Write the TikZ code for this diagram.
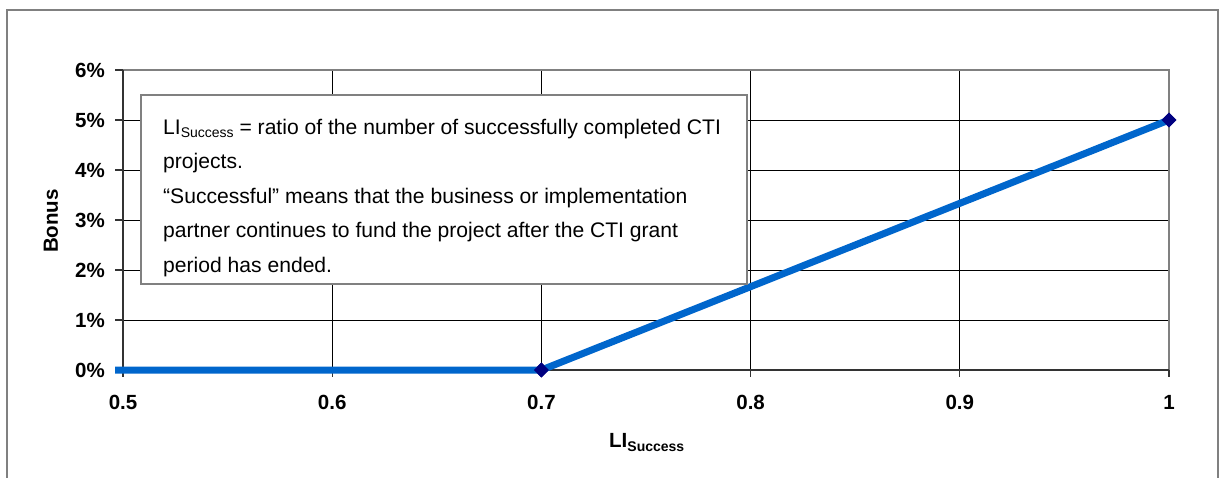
\documentclass[tikz,border=0pt]{standalone}
\usepackage{fontspec}
\setmainfont{Liberation Sans}
\usetikzlibrary{shapes.geometric}
\definecolor{frame}{RGB}{128,128,128}
\definecolor{series}{RGB}{0,102,204}
\definecolor{marker}{RGB}{0,0,128}
\tikzset{
  grid/.style={line width=1pt, black},
  axisline/.style={line width=1.2pt, black!80},
  plotframe/.style={line width=1.5pt, frame},
  ylab/.style={anchor=east, font=\fontsize{20.5}{23}\selectfont\bfseries, inner sep=0pt},
  xlab/.style={anchor=center, font=\fontsize{20.5}{23}\selectfont\bfseries, inner sep=0pt},
  boxline/.style={anchor=base west, inner sep=0pt, font=\fontsize{21.1}{24}\selectfont},
  dmark/.style={diamond, fill=marker, inner sep=0pt, minimum size=15pt},
}
\newcommand{\subSucc}{\raisebox{-3pt}{\fontsize{14}{15}\selectfont Success}}
\newcommand{\subSuccB}{\raisebox{-4pt}{\fontsize{14}{15}\selectfont\bfseries Success}}
\begin{document}
\begin{tikzpicture}[x=1pt,y=-1pt]
\useasboundingbox (0,0) rectangle (1222,477);
% outer chart frame (open at bottom)
\draw[line width=1.5pt, frame] (7,480) -- (7,10) -- (1218,10) -- (1218,480);
% horizontal gridlines
\foreach \p in {1,...,5} {
  \draw[grid] (123,{370-50*\p}) -- (1169,{370-50*\p});
}
% vertical gridlines
\foreach \v in {1,...,4} {
  \draw[grid] ({123+209.2*\v},70) -- ({123+209.2*\v},370);
}
% plot area frame (top, right)
\draw[plotframe] (123,70) -- (1169,70) -- (1169,370);
% axes
\draw[axisline] (123,70) -- (123,377);
\draw[axisline] (115,370) -- (1169,370);
% ticks
\foreach \p in {0,...,6} {
  \draw[axisline] (115,{370-50*\p}) -- (123,{370-50*\p});
}
\foreach \v in {0,...,5} {
  \draw[axisline] ({123+209.2*\v},370) -- ({123+209.2*\v},377);
}
% y labels
\foreach \p in {0,...,6} {
  \node[ylab] (y\p) at (105,{370-50*\p}) {\p\%};
}
% x labels
\node[xlab] (x05) at (123,402) {0.5};
\node[xlab] (x06) at (332.2,402) {0.6};
\node[xlab] (x07) at (541.4,402) {0.7};
\node[xlab] (x08) at (750.6,402) {0.8};
\node[xlab] (x09) at (959.8,402) {0.9};
\node[xlab] (x10) at (1169,402) {1};
% axis titles
\node[rotate=90, anchor=center, inner sep=0pt, font=\fontsize{20.5}{23}\selectfont\bfseries] (ytitle) at (51,221) {Bonus};
\node[anchor=base west, inner sep=0pt, font=\fontsize{20.5}{23}\selectfont\bfseries] (xtitle) at (609,447) {LI\subSuccB};
% data series
\coordinate (s0) at (115,370);
\node[dmark] (p07) at (541.4,370) {};
\node[dmark] (p10) at (1169,120) {};
\draw[series, line width=7pt, line join=round] (s0) -- (p07.center) -- (p10.center);
\node[dmark] at (p07.center) {};
\node[dmark] at (p10.center) {};
% text box
\draw[line width=1.5pt, frame, fill=white] (141,95) rectangle (747,284);
\node[boxline] (t1) at (163,134) {LI\subSucc{} = ratio of the number of successfully completed CTI};
\node[boxline] (t2) at (163,168.5) {projects.};
\node[boxline] (t3) at (163,203) {“Successful” means that the business or implementation};
\node[boxline] (t4) at (163,237.5) {partner continues to fund the project after the CTI grant};
\node[boxline] (t5) at (163,272) {period has ended.};
\end{tikzpicture}
\end{document}
